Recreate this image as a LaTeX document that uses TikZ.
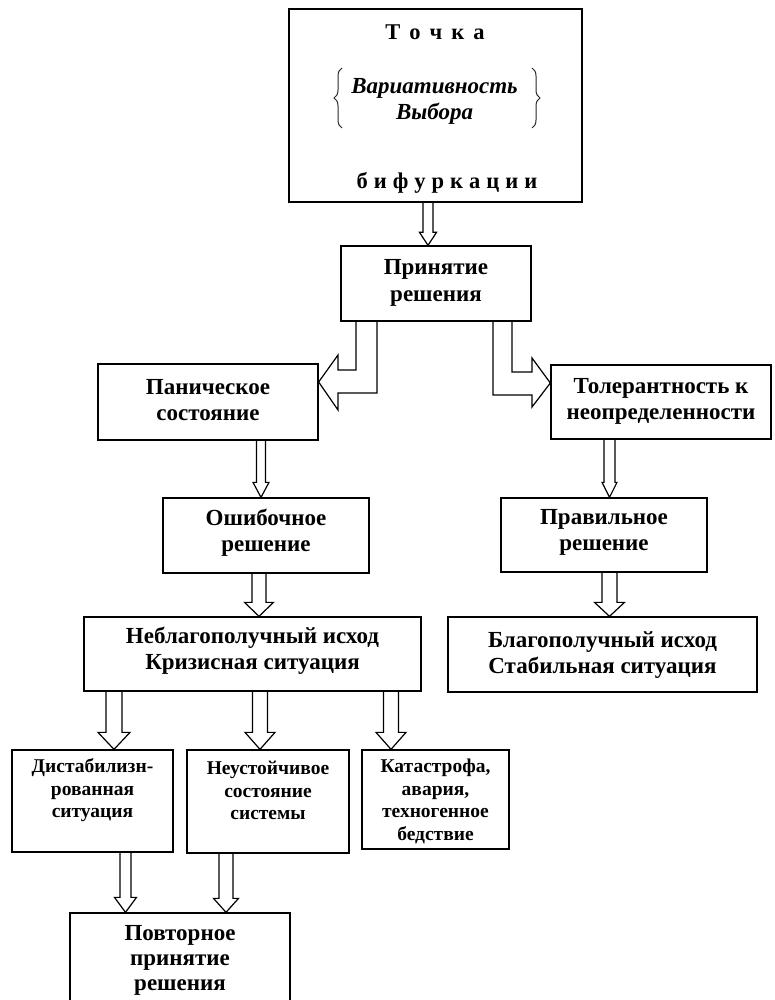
\documentclass[tikz,border=0pt]{standalone}
\usepackage{fontspec}
\setmainfont{Liberation Serif}
\usetikzlibrary{calc,decorations.pathreplacing}
\newcommand\darr[6]{% #1 centre x, #2 from node, #3 to node, #4 shaft half width, #5 head half width, #6 head length
  \draw[barrow] let \p1=(#2.south), \p2=(#3.north) in
    ({#1pt-#4pt},\y1) -- ({#1pt-#4pt},{\y2+#6pt}) -- ({#1pt-#5pt},{\y2+#6pt}) -- (#1pt,\y2)
    -- ({#1pt+#5pt},{\y2+#6pt}) -- ({#1pt+#4pt},{\y2+#6pt}) -- ({#1pt+#4pt},\y1);}
\begin{document}
\begin{tikzpicture}[x=1pt,y=-1pt,
  box/.style={draw=black, line width=1.3pt, rectangle, inner sep=0pt},
  txt/.style={align=center, inner sep=0pt, font=\bfseries\fontsize{23}{26.5}\selectfont},
  stxt/.style={align=center, inner sep=0pt, font=\bfseries\fontsize{19.5}{22.5}\selectfont},
  barrow/.style={draw=black, line width=1.2pt, line join=miter},
  brc/.style={draw=black!85, line width=1pt, decorate, decoration={brace, amplitude=8pt}}]
\path[use as bounding box, clip] (0,0) rectangle (774,1000);

% boxes
\node[box, minimum width=293pt, minimum height=193pt] (top) at (435.5,105.5) {};
\node[box, minimum width=190pt, minimum height=75pt] (prin) at (436,283.5) {};
\node[box, minimum width=220pt, minimum height=76pt] (pan) at (208,402) {};
\node[box, minimum width=220pt, minimum height=74pt] (tol) at (661,402) {};
\node[box, minimum width=206pt, minimum height=75pt] (osh) at (266,535.5) {};
\node[box, minimum width=206pt, minimum height=74pt] (prav) at (604,535) {};
\node[box, minimum width=337pt, minimum height=74pt] (neb) at (252.5,654) {};
\node[box, minimum width=309pt, minimum height=75pt] (blag) at (602.5,654.5) {};
\node[box, minimum width=161pt, minimum height=102pt] (dist) at (92.5,801) {};
\node[box, minimum width=162pt, minimum height=103pt] (neust) at (268,801.5) {};
\node[box, minimum width=147pt, minimum height=99pt] (kat) at (435.5,799.5) {};
\node[box, minimum width=220pt, minimum height=102pt] (povt) at (180,964) {};

% texts of the top box
\node[inner sep=0pt, font=\bfseries\fontsize{22.5}{26}\selectfont] (toch) at (435,32)
  {Т\hspace{9pt}о\hspace{9pt}ч\hspace{9pt}к\hspace{9pt}а};
\node[inner sep=0pt, align=center, font=\bfseries\itshape\fontsize{23}{26}\selectfont] (var) at (434.5,101) {Вариативность\\Выбора};
\node[inner sep=0pt, font=\bfseries\fontsize{22.5}{26}\selectfont] (bif) at (447,183)
  {б\hspace{6pt}и\hspace{6pt}ф\hspace{6pt}у\hspace{6pt}р\hspace{6pt}к\hspace{6pt}а\hspace{6pt}ц\hspace{6pt}и\hspace{6pt}и};
\draw[brc] (342,128) -- (342,68);
\draw[brc] (532,68) -- (532,128);

% texts
\node[txt] (prin-t) at (436,283) {Принятие\\решения};
\node[txt] (pan-t) at (208,400) {Паническое\\состояние};
\node[txt] (tol-t) at (661,401.5) {Толерантность к\\неопределенности};
\node[txt] (osh-t) at (266,532.5) {Ошибочное\\решение};
\node[txt] (prav-t) at (604,532.5) {Правильное\\решение};
\node[txt] (neb-t) at (252.5,650.5) {Неблагополучный исход\\Кризисная ситуация};
\node[txt] (blag-t) at (602.5,655) {Благополучный исход\\Стабильная ситуация};
\node[stxt] (dist-t) at (92.5,790.5) {Дистабилизн-\\рованная\\ситуация};
\node[stxt] (neust-t) at (268,790.5) {Неустойчивое\\состояние\\системы};
\node[stxt] (kat-t) at (435.5,801.5) {Катастрофа,\\авария,\\техногенное\\бедствие};
\node[txt, font=\bfseries\fontsize{23}{25}\selectfont] (povt-t) at (180,960) {Повторное\\принятие\\решения};

% straight block arrows
\darr{428}{top}{prin}{5}{8.5}{13}
\darr{261}{pan}{osh}{4.5}{8}{15}
\darr{609.5}{tol}{prav}{5.5}{7.5}{15}
\darr{259}{osh}{neb}{7}{14.5}{14}
\darr{609.5}{prav}{blag}{7.5}{15}{14}
\darr{114}{neb}{dist}{8}{16}{17}
\darr{260}{neb}{neust}{7.5}{15}{17}
\darr{391}{neb}{kat}{7.5}{15}{17}
\darr{125.5}{dist}{povt}{5.5}{11}{15}
\darr{226}{neust}{povt}{7}{12.5}{14}

% bent block arrows
\draw[barrow] (377,0 |- prin.south) -- (377,393) -- (338,393) -- (338,410) -- (pan.east |- 0,382)
  -- (338,355) -- (338,370) -- (356,370) -- (356,0 |- prin.south);
\draw[barrow] (493,0 |- prin.south) -- (493,395) -- (532,395) -- (532,407) -- (tol.west |- 0,383)
  -- (532,358) -- (532,372) -- (512,372) -- (512,0 |- prin.south);
\end{tikzpicture}
\end{document}
